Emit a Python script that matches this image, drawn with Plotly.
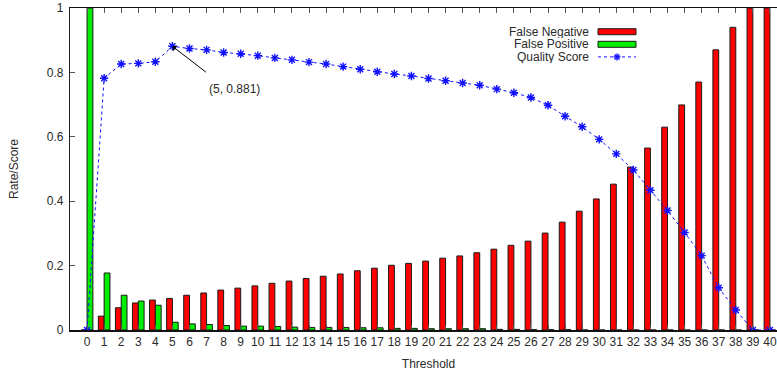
import plotly.graph_objects as go

thresholds = list(range(0, 41))
false_negative = [0.0, 0.043, 0.069, 0.084, 0.093, 0.098, 0.108, 0.115, 0.124, 0.130,
                  0.137, 0.145, 0.152, 0.160, 0.167, 0.174, 0.184, 0.192, 0.201, 0.207,
                  0.214, 0.223, 0.230, 0.240, 0.251, 0.263, 0.276, 0.301, 0.335, 0.369,
                  0.407, 0.453, 0.506, 0.565, 0.630, 0.699, 0.770, 0.870, 0.940, 1.0, 1.0]
false_positive = [1.0, 0.177, 0.108, 0.090, 0.077, 0.024, 0.019, 0.017, 0.014, 0.012,
                  0.012, 0.011, 0.009, 0.008, 0.008, 0.008, 0.007, 0.007, 0.005, 0.005,
                  0.004, 0.004, 0.004, 0.004, 0.002, 0.002, 0.001, 0.001, 0.001, 0.0,
                  0.0, 0.0, 0.0, 0.0, 0.0, 0.0, 0.0, 0.0, 0.0, 0.0, 0.0]
quality_score = [0.0, 0.782, 0.826, 0.828, 0.833, 0.881, 0.874, 0.870, 0.862, 0.858,
                 0.852, 0.845, 0.839, 0.832, 0.826, 0.818, 0.810, 0.802, 0.795, 0.789,
                 0.781, 0.774, 0.767, 0.760, 0.748, 0.737, 0.722, 0.698, 0.664, 0.631,
                 0.592, 0.547, 0.497, 0.434, 0.371, 0.303, 0.231, 0.131, 0.062, 0.0, 0.0]
y_ticks = [0, 0.2, 0.4, 0.6, 0.8, 1]
y_tick_labels = ["0", "0.2", "0.4", "0.6", "0.8", "1"]
series_names = ["False Negative", "False Positive", "Quality Score"]
best_point = (5, 0.881)

FONT = "Liberation Sans, Arial, sans-serif"
TXT = "#2a2a2a"

fig = go.Figure()
fig.add_trace(go.Bar(x=thresholds, y=false_negative, name=series_names[0],
                     width=0.34, offset=-0.34,
                     marker=dict(color="#ff0000", line=dict(color="#1a1a1a", width=1))))
fig.add_trace(go.Bar(x=thresholds, y=false_positive, name=series_names[1],
                     width=0.34, offset=0.0,
                     marker=dict(color="#00ee00", line=dict(color="#1a1a1a", width=1))))
fig.add_trace(go.Scatter(x=thresholds, y=quality_score, name=series_names[2],
                         mode="lines+markers",
                         line=dict(color="#1010ff", width=1, dash="dot"),
                         marker=dict(symbol="asterisk", size=7,
                                     line=dict(color="#1010ff", width=1.4))))

# Arrow annotation to best point
fig.add_annotation(x=best_point[0], y=best_point[1], xref="x", yref="y",
                   text="", showarrow=True, ax=35, ay=27, axref="pixel", ayref="pixel",
                   arrowhead=1, arrowsize=1.2, arrowwidth=1, arrowcolor="#000000")
fig.add_annotation(x=best_point[0], y=best_point[1], xref="x", yref="y",
                   text="(%d, %.3f)" % best_point, showarrow=False,
                   xshift=62, yshift=-43,
                   font=dict(family=FONT, size=12, color=TXT))

# Geometry in page pixels (body margin removed below); plot runs past the right edge.
L_PAGE, R_PAGE, T_PAGE, B_PAGE = 70.0, 787.0, 8.0, 330.0
W, H = R_PAGE - L_PAGE, B_PAGE - T_PAGE
def px(xp):
    return (xp - L_PAGE) / W
def py(yp):
    return (B_PAGE - yp) / H

legend_rows = [31.7, 44.3, 56.9]
for name, yrow in zip(series_names, legend_rows):
    fig.add_annotation(x=px(590), y=py(yrow), xref="paper", yref="paper",
                       text=name, showarrow=False, xanchor="right", yanchor="middle",
                       borderpad=0, height=12, valign="middle",
                       font=dict(family=FONT, size=12, color=TXT))
for color, yrow in zip(["#ff0000", "#00ee00"], legend_rows[:2]):
    fig.add_shape(type="rect", xref="paper", yref="paper",
                  x0=px(598), x1=px(636), y0=py(yrow + 3), y1=py(yrow - 3),
                  fillcolor=color, line=dict(color="#1a1a1a", width=1))
fig.add_shape(type="line", xref="paper", yref="paper",
              x0=px(598), x1=px(636), y0=py(legend_rows[2]), y1=py(legend_rows[2]),
              line=dict(color="#1010ff", width=1, dash="dot"))
cx, cy = px(617), py(legend_rows[2])
for (dx0, dy0, dx1, dy1) in [(-3.5, 0, 3.5, 0), (0, -3.5, 0, 3.5), (-2.5, -2.5, 2.5, 2.5), (-2.5, 2.5, 2.5, -2.5)]:
    fig.add_shape(type="line", xref="paper", yref="paper",
                  xsizemode="pixel", ysizemode="pixel", xanchor=cx, yanchor=cy,
                  x0=dx0, x1=dx1, y0=dy0, y1=dy1,
                  line=dict(color="#1010ff", width=1.4))

fig_w = int(R_PAGE)
fig_h = 372
fig.update_layout(
    width=fig_w, height=fig_h,
    margin=dict(l=int(L_PAGE), r=0, t=int(T_PAGE), b=int(fig_h - B_PAGE)),
    paper_bgcolor="white", plot_bgcolor="white",
    barmode="overlay", showlegend=False, hovermode=False,
    font=dict(family=FONT, size=12, color=TXT),
)
fig.update_xaxes(range=[-1.0, 41.0], tickmode="array", tickvals=thresholds,
                 ticktext=[str(t) for t in thresholds],
                 ticks="inside", ticklen=5, tickcolor="#555", tickwidth=1,
                 showline=True, linecolor="#111", linewidth=1.5, mirror="ticks",
                 showgrid=False, zeroline=False,
                 title=dict(text="Threshold", standoff=11, font=dict(size=12)),
                 tickfont=dict(size=12))
fig.update_yaxes(range=[0, 1], tickmode="array", tickvals=y_ticks, ticktext=y_tick_labels,
                 ticks="inside", ticklen=5, tickcolor="#555", tickwidth=1,
                 showline=True, linecolor="#222", linewidth=1.2, mirror="ticks",
                 showgrid=False, zeroline=False, ticklabelstandoff=3,
                 title=dict(text="Rate/Score", standoff=25, font=dict(size=12)),
                 tickfont=dict(size=12))

fig.write_html("out.html",
               config={"displayModeBar": False, "staticPlot": True},
               post_script="document.body.style.margin='0';document.body.style.overflow='hidden';")
